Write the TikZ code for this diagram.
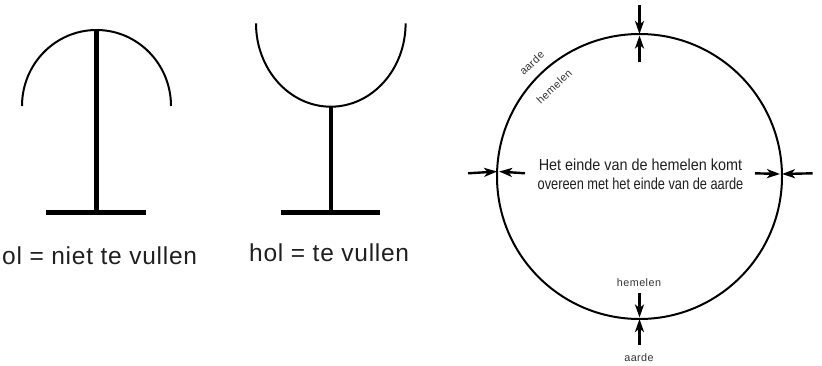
\documentclass[tikz,border=0pt]{standalone}
\usepackage{fontspec}
\setmainfont{Liberation Sans}
\newfontfamily\capfont[LetterSpace=3]{Liberation Sans}
\newfontfamily\smallfont[LetterSpace=4]{Liberation Sans}
\usetikzlibrary{arrows.meta}
\begin{document}
\begin{tikzpicture}[x=1pt,y=1pt,
  thinline/.style={line width=2pt, line cap=butt},
  stem/.style={line width=4.2pt},
  bar/.style={line width=5pt},
  pointer/.style={line width=2.4pt, -{Stealth[length=13pt,width=9pt,inset=3.5pt]}},
  caption/.style={inner sep=0, font={\capfont\fontsize{24.5}{29}\selectfont}, text=black!88},
  mid/.style={inner sep=0, font={\fontsize{16}{19}\selectfont}, text=black!88},
  small/.style={inner sep=0, font={\smallfont\fontsize{10.8}{13}\selectfont}, text=black!80}]
\useasboundingbox (0,0) rectangle (822,-366);

% left figure: "niet te vullen"
\coordinate (lt) at (96.5,-30);
\coordinate (lb) at (96.5,-212.5);
\draw[thinline] (22,-106) arc[start angle=180, end angle=0, x radius=74.5, y radius=76];
\draw[stem] (lt) -- (lb);
\draw[bar] (46,-212.5) -- (146,-212.5);
\node[caption, anchor=base west] (capl) at (2,-265) {ol = niet te vullen};

% middle figure: "te vullen"
\coordinate (mt) at (330.8,-106.7);
\coordinate (mb) at (330.8,-212.5);
\draw[thinline] (256,-23.3) arc[start angle=180, end angle=360, x radius=74.8, y radius=83.4];
\draw[stem] (mt) -- (mb);
\draw[bar] (281,-212.5) -- (380,-212.5);
\node[caption, anchor=base west] (capm) at (249,-261.7) {hol = te vullen};

% right figure: circle
\node[circle, draw, line width=2pt, minimum size=285pt, inner sep=0, outer sep=0] (c) at (639.5,-176.5) {};

\coordinate (t1) at (639.5,-5);
\coordinate (t2) at (639.5,-62);
\coordinate (b1) at (639.5,-292.7);
\coordinate (b2) at (639.5,-345);
\coordinate (l1) at (468,-173.3);
\coordinate (l2) at (525,-173.3);
\coordinate (r1) at (755,-173.3);
\coordinate (r2) at (812.7,-173.3);

\draw[pointer] (t1) -- (c.north);
\draw[pointer] (t2) -- ([yshift=-1.5pt]c.north);
\draw[pointer] (b1) -- ([yshift=1.5pt]c.south);
\draw[pointer] (b2) -- (c.south);
\draw[pointer] (l1) -- (c.178.7);
\draw[pointer] (l2) -- ([xshift=2pt]c.178.7);
\draw[pointer] (r1) -- ([xshift=-2pt]c.1.3);
\draw[pointer] (r2) -- (c.1.3);

\node[mid, anchor=base] (m1) at (640.5,-170.7) {\scalebox{0.9}[1]{Het einde van de hemelen komt}};
\node[mid, anchor=base] (m2) at (640.5,-189.3) {\scalebox{0.8}[1]{overeen met het einde van de aarde}};

\node[small] (bh) at (639,-282.7) {hemelen};
\node[small] (ba) at (639,-357.5) {aarde};
\node[small, rotate=43.5] (ua) at ([shift={(133.5:156.5)}]c.center) {aarde};
\node[small, rotate=43.5] (uh) at ([shift={(133.5:124)}]c.center) {hemelen};
\end{tikzpicture}
\end{document}
